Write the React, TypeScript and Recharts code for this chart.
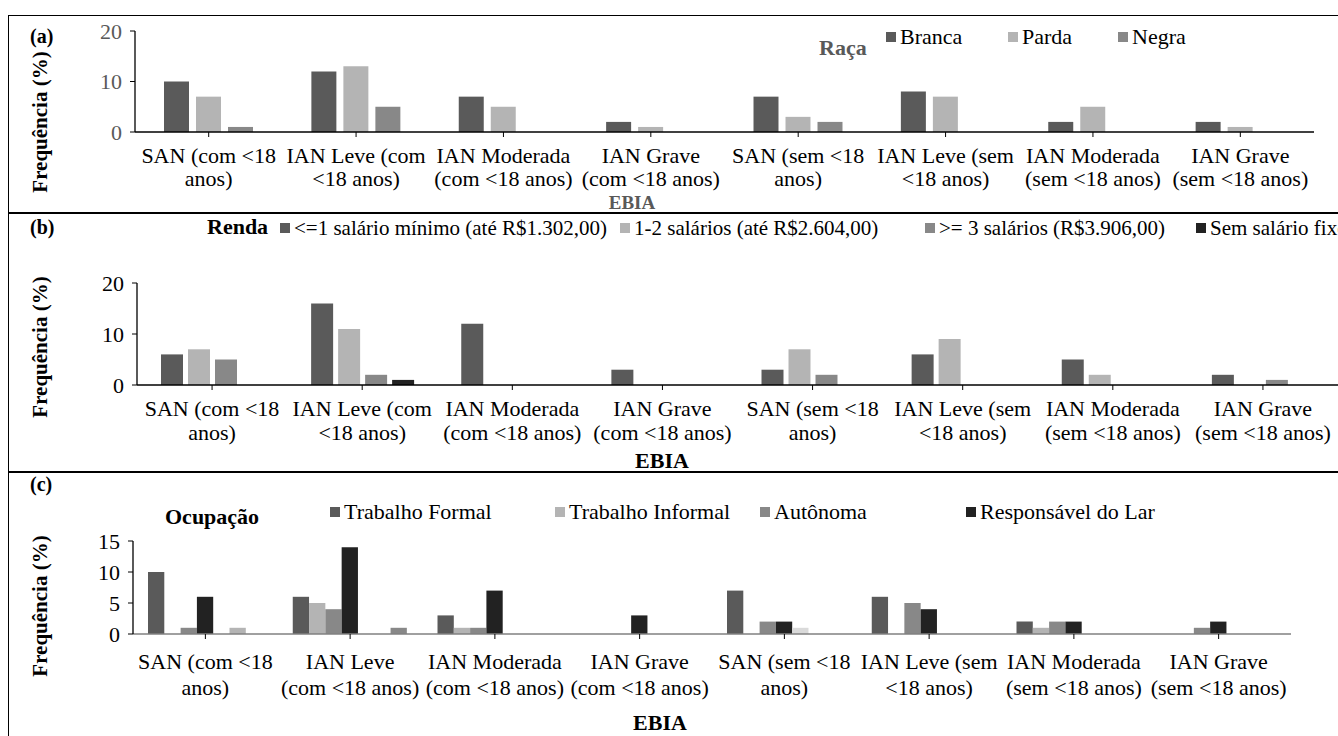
import React from "react";
import { BarChart, Bar, XAxis, YAxis } from "recharts";

const FONT = "'Liberation Serif', 'Tinos', 'DejaVu Serif', serif";

// EBIA categories, two lines each (wrapping differs a little in panel c)
const categoriesAB = [
  "SAN (com <18\nanos)",
  "IAN Leve (com\n<18 anos)",
  "IAN Moderada\n(com <18 anos)",
  "IAN Grave\n(com <18 anos)",
  "SAN (sem <18\nanos)",
  "IAN Leve (sem\n<18 anos)",
  "IAN Moderada\n(sem <18 anos)",
  "IAN Grave\n(sem <18 anos)",
];
const categoriesC = [
  "SAN (com <18\nanos)",
  "IAN Leve\n(com <18 anos)",
  "IAN Moderada\n(com <18 anos)",
  "IAN Grave\n(com <18 anos)",
  "SAN (sem <18\nanos)",
  "IAN Leve (sem\n<18 anos)",
  "IAN Moderada\n(sem <18 anos)",
  "IAN Grave\n(sem <18 anos)",
];

// (a) Raça
const branca = [10, 12, 7, 2, 7, 8, 2, 2];
const parda = [7, 13, 5, 1, 3, 7, 5, 1];
const negra = [1, 5, 0, 0, 2, 0, 0, 0];

// (b) Renda
const ateUm = [6, 16, 12, 3, 3, 6, 5, 2];
const umDois = [7, 11, 0, 0, 7, 9, 2, 0];
const tresMais = [5, 2, 0, 0, 2, 0, 0, 1];
const semSalario = [0, 1, 0, 0, 0, 0, 0, 0];

// (c) Ocupação (the last three series have no legend entry)
const formal = [10, 6, 3, 0, 7, 6, 2, 0];
const informal = [0, 5, 1, 0, 0, 0, 1, 0];
const autonoma = [1, 4, 1, 0, 2, 5, 2, 1];
const lar = [6, 14, 7, 3, 2, 4, 2, 2];
const extraA = [0, 0, 0, 0, 1, 0, 0, 0];
const extraB = [1, 0, 0, 0, 0, 0, 0, 0];
const extraC = [0, 1, 0, 0, 0, 0, 0, 0];

const DARK = "#5a5a5a";
const LIGHT = "#b4b4b4";
const MID = "#888888";
const BLACK = "#222222";
const PALE = "#dadada";

const dataA = categoriesAB.map((cat, i) => ({ cat, branca: branca[i], parda: parda[i], negra: negra[i] }));
const dataB = categoriesAB.map((cat, i) => ({
  cat, ateUm: ateUm[i], umDois: umDois[i], tresMais: tresMais[i], semSalario: semSalario[i],
}));
const dataC = categoriesC.map((cat, i) => ({
  cat, formal: formal[i], informal: informal[i], autonoma: autonoma[i], lar: lar[i],
  extraA: extraA[i], extraB: extraB[i], extraC: extraC[i],
}));

const TXT = 22;

function CategoryTick(props: any) {
  const { x, y, payload, first, lineH } = props;
  const lines = String(payload.value).split("\n");
  return (
    <text x={x} y={y} textAnchor="middle" fontFamily={FONT} fontSize={TXT} fill="#000">
      {lines.map((l: string, i: number) => (
        <tspan key={i} x={x} dy={i === 0 ? first : lineH}>{l}</tspan>
      ))}
    </text>
  );
}

function Panel(props: any) {
  const { data, series, barSize, barGap, top, bottom, left, right, width, yMax, yTicks, yColor, axisColor, first, lineH } = props;
  const xh = 60;
  return (
    <div style={{ position: "absolute", left: 0, top: 0 }}>
      <BarChart
        width={width}
        height={736}
        data={data}
        barSize={barSize}
        barGap={barGap}
        margin={{ top, right: width - right, left: left - 40, bottom: 736 - bottom - xh }}
      >
        <XAxis
          dataKey="cat"
          height={xh}
          interval={0}
          tickSize={5}
          tickMargin={0}
          axisLine={{ stroke: axisColor, strokeWidth: 1.3 }}
          tickLine={{ stroke: "#000" }}
          tick={(p: any) => <CategoryTick {...p} first={first} lineH={lineH} />}
        />
        <YAxis
          width={40}
          domain={[0, yMax]}
          ticks={yTicks}
          interval={0}
          tickSize={5}
          tickMargin={8}
          axisLine={{ stroke: "#000", strokeWidth: 1.3 }}
          tickLine={{ stroke: "#000" }}
          tick={{ fill: yColor, fontSize: TXT, fontFamily: FONT }}
        />
        {series.map((s: any) => (
          <Bar key={s.key} dataKey={s.key} fill={s.color} isAnimationActive={false} />
        ))}
      </BarChart>
    </div>
  );
}

// cy is the vertical centre of the text row
function LegendItem({ x, cy, color, label, size }: { x: number; cy: number; color: string; label: string; size?: number }) {
  return (
    <div style={{ position: "absolute", left: x, top: cy - 13, display: "flex", alignItems: "center", whiteSpace: "nowrap", fontSize: size || TXT, lineHeight: "26px" }}>
      <span style={{ display: "inline-block", width: 10, height: 10, background: color, marginRight: 4 }} />
      {label}
    </div>
  );
}

function Label({ x, cy, text, bold, color, size, center }: any) {
  return (
    <div
      style={{
        position: "absolute", left: x, top: cy - 13, fontWeight: bold ? "bold" : "normal", color: color || "#000",
        fontSize: size || TXT, lineHeight: "26px", whiteSpace: "nowrap",
        transform: center ? "translateX(-50%)" : undefined,
      }}
    >
      {text}
    </div>
  );
}

function YTitle({ cy }: { cy: number }) {
  return (
    <div
      style={{
        position: "absolute", left: 40, top: cy, transform: "translate(-50%, -50%) rotate(-90deg)",
        fontWeight: "bold", fontSize: 21, whiteSpace: "nowrap", lineHeight: "22px",
      }}
    >
      Frequência (%)
    </div>
  );
}

export default function App() {
  return (
    <div
      style={{
        position: "absolute", left: 0, top: 0, width: 1338, height: 736, overflow: "hidden",
        background: "#fff", fontFamily: FONT, color: "#000",
      }}
    >
      {/* frame */}
      <div style={{ position: "absolute", left: 8, top: 15, width: 1340, height: 730, borderLeft: "1.5px solid #000", borderTop: "1.5px solid #000" }} />
      <div style={{ position: "absolute", left: 8, top: 212, width: 1340, borderTop: "2px solid #000" }} />
      <div style={{ position: "absolute", left: 8, top: 471, width: 1340, borderTop: "2px solid #000" }} />

      {/* (a) Raça */}
      <Panel
        data={dataA}
        series={[{ key: "branca", color: DARK }, { key: "parda", color: LIGHT }, { key: "negra", color: MID }]}
        barSize={25} barGap={7}
        top={31} bottom={132} left={135} right={1314} width={1338}
        yMax={20} yTicks={[0, 10, 20]} yColor="#595959" axisColor="#000"
        first={26} lineH={23}
      />
      <Label x={30} cy={36} text="(a)" bold size={20} />
      <YTitle cy={122} />
      <Label x={819} cy={48} text="Raça" bold color="#595959" />
      <LegendItem x={886} cy={37} color={DARK} label="Branca" />
      <LegendItem x={1008} cy={37} color={LIGHT} label="Parda" />
      <LegendItem x={1118} cy={37} color={MID} label="Negra" />
      <Label x={632} cy={203} text="EBIA" bold color="#595959" size={19} center />

      {/* (b) Renda */}
      <Panel
        data={dataB}
        series={[
          { key: "ateUm", color: DARK }, { key: "umDois", color: LIGHT },
          { key: "tresMais", color: MID }, { key: "semSalario", color: BLACK },
        ]}
        barSize={22} barGap={5}
        top={283} bottom={385} left={137} right={1338} width={1338}
        yMax={20} yTicks={[0, 10, 20]} yColor="#000" axisColor="#000"
        first={26} lineH={24}
      />
      <Label x={30} cy={227} text="(b)" bold size={20} />
      <YTitle cy={347} />
      <Label x={207} cy={227} text="Renda" bold />
      <LegendItem x={280} cy={228} size={21} color={DARK} label="<=1 salário mínimo (até R$1.302,00)" />
      <LegendItem x={620} cy={228} size={21} color={LIGHT} label="1-2 salários (até R$2.604,00)" />
      <LegendItem x={925} cy={228} size={21} color={MID} label=">= 3 salários (R$3.906,00)" />
      <LegendItem x={1196} cy={228} size={21} color={BLACK} label="Sem salário fixo" />
      <Label x={662} cy={461} text="EBIA" bold center />

      {/* (c) Ocupação */}
      <Panel
        data={dataC}
        series={[
          { key: "formal", color: DARK }, { key: "informal", color: LIGHT },
          { key: "autonoma", color: MID }, { key: "lar", color: BLACK },
          { key: "extraA", color: PALE }, { key: "extraB", color: LIGHT }, { key: "extraC", color: MID },
        ]}
        barSize={16.3} barGap={0}
        top={541} bottom={634} left={133} right={1291} width={1338}
        yMax={15} yTicks={[0, 5, 10, 15]} yColor="#000" axisColor="#808080"
        first={30} lineH={26}
      />
      <Label x={30} cy={484} text="(c)" bold size={20} />
      <YTitle cy={606} />
      <Label x={165} cy={517} text="Ocupação" bold />
      <LegendItem x={330} cy={512} color={DARK} label="Trabalho Formal" />
      <LegendItem x={555} cy={512} color={LIGHT} label="Trabalho Informal" />
      <LegendItem x={760} cy={512} color={MID} label="Autônoma" />
      <LegendItem x={966} cy={512} color={BLACK} label="Responsável do Lar" />
      <Label x={660} cy={723} text="EBIA" bold center />
    </div>
  );
}
